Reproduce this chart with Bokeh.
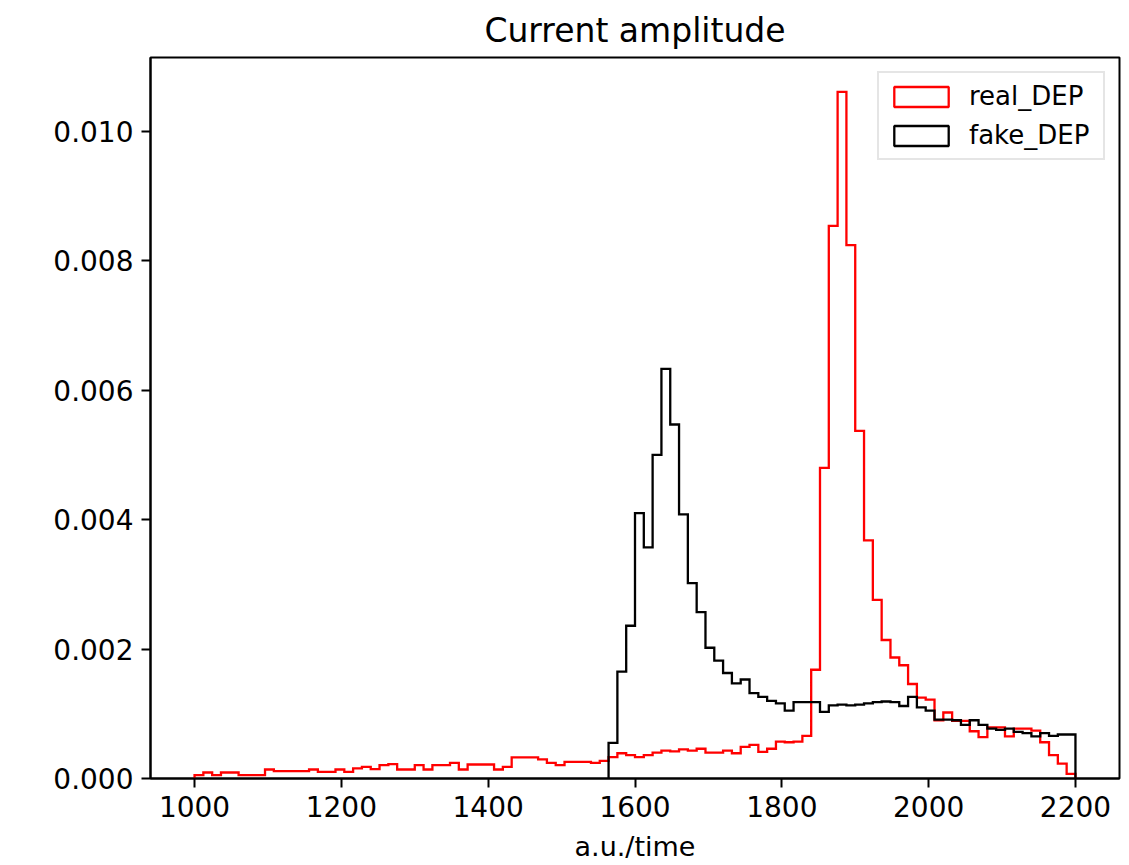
from bokeh.plotting import figure
from bokeh.models import Range1d, FixedTicker, PrintfTickFormatter, Legend, LegendItem, ColumnDataSource
from bokeh.embed import file_html
from bokeh.resources import INLINE

# ---- data (density histogram, 100 bins of width 12 from 1000 to 2200) ----
bin_start = 1000
bin_width = 12

# real_DEP densities for bins 0..99
real_dep = [
    0.000051, 0.000093, 0.000051, 0.000093, 0.000093, 0.000051, 0.000051, 0.000051, 0.000139, 0.000113,
    0.000113, 0.000113, 0.000113, 0.000139, 0.000102, 0.000102, 0.000139, 0.000102, 0.000155, 0.000180,
    0.000144, 0.000206, 0.000221, 0.000139, 0.000139, 0.000206, 0.000139, 0.000206, 0.000206, 0.000240,
    0.000139, 0.000216, 0.000216, 0.000216, 0.000139, 0.000180, 0.000325, 0.000325, 0.000325, 0.000294,
    0.000240, 0.000206, 0.000257, 0.000257, 0.000257, 0.000240, 0.000272,
    0.000330, 0.000390, 0.000360, 0.000330, 0.000360, 0.000400, 0.000430, 0.000420, 0.000450, 0.000430,
    0.000460, 0.000400, 0.000400, 0.000430, 0.000390, 0.000490, 0.000520, 0.000410, 0.000460, 0.000570,
    0.000560, 0.000570, 0.000660,
    0.00168, 0.00480, 0.00854, 0.01061, 0.00824, 0.00537, 0.00368, 0.00276, 0.00214, 0.00187,
    0.00175, 0.00146, 0.00125, 0.00122, 0.00090, 0.00102, 0.00089, 0.00089, 0.00073, 0.00064,
    0.00079, 0.00079, 0.00065, 0.00077, 0.00077, 0.00074, 0.00056, 0.00036, 0.00023, 0.00007,
]

# fake_DEP densities, first non-empty bin is bin 47 (x = 1564)
fake_first_bin = 47
fake_dep = [
    0.00055, 0.00165, 0.00236, 0.00410, 0.00357, 0.00500, 0.00633, 0.00547, 0.00408, 0.00302,
    0.00257, 0.00202, 0.00182, 0.00163, 0.00147, 0.00153, 0.00132, 0.00126, 0.00120, 0.00116,
    0.00105, 0.00118, 0.00118, 0.00118, 0.00103, 0.00113, 0.00114, 0.00113, 0.00114, 0.00116,
    0.00118, 0.00119, 0.00118, 0.00112, 0.00126, 0.00110, 0.00105, 0.00091, 0.00091, 0.00090,
    0.00083, 0.00090, 0.00083, 0.00077, 0.00075, 0.00077, 0.00072, 0.00070, 0.00065, 0.00070,
    0.00066, 0.00068, 0.00068,
]

x_ticks = [1000, 1200, 1400, 1600, 1800, 2000, 2200]
y_ticks = [0.0, 0.002, 0.004, 0.006, 0.008, 0.010]

title_text = "Current amplitude"
x_label = "a.u./time"
labels = ["real_DEP", "fake_DEP"]
colors = ["#ff0000", "#000000"]


def step_outline(first_bin, values):
    xs, ys = [], []
    left0 = bin_start + first_bin * bin_width
    xs.append(left0)
    ys.append(0.0)
    for i, v in enumerate(values):
        left = bin_start + (first_bin + i) * bin_width
        right = left + bin_width
        xs += [left, right]
        ys += [v, v]
    xs.append(bin_start + (first_bin + len(values)) * bin_width)
    ys.append(0.0)
    return xs, ys


def bin_table(first_bin, values):
    lefts = [bin_start + (first_bin + i) * bin_width for i in range(len(values))]
    return dict(left=lefts, right=[l + bin_width for l in lefts],
                top=list(values), bottom=[0.0] * len(values))


x_lo, x_hi = bin_start, bin_start + len(real_dep) * bin_width
pad = 0.05 * (x_hi - x_lo)
ymax = max(max(real_dep), max(fake_dep)) * 1.05

FONT = "DejaVu Sans"
LW = 2.3

p = figure(width=1129, height=865, output_backend="svg", toolbar_location=None,
           x_range=Range1d(x_lo - pad, x_hi + pad), y_range=Range1d(0, ymax),
           min_border_left=150, min_border_right=10, min_border_top=57, min_border_bottom=87,
           title=title_text)

p.title.align = "center"
p.title.text_font = FONT
p.title.text_font_size = "33px"
p.title.text_font_style = "normal"
p.title.text_color = "black"
p.title.standoff = 15

p.background_fill_color = "white"
p.border_fill_color = "white"
p.outline_line_color = "black"
p.outline_line_width = 2
p.outline_line_alpha = 1.0
p.xgrid.visible = False
p.ygrid.visible = False

p.xaxis.ticker = FixedTicker(ticks=x_ticks)
p.yaxis.ticker = FixedTicker(ticks=y_ticks)
p.yaxis.formatter = PrintfTickFormatter(format="%.3f")
for ax in (p.xaxis, p.yaxis):
    ax.minor_tick_line_color = None
    ax.major_tick_in = 0
    ax.major_tick_out = 9
    ax.major_tick_line_width = 2
    ax.major_tick_line_color = "black"
    ax.axis_line_width = 2
    ax.axis_line_color = "black"
    ax.major_label_text_font = FONT
    ax.major_label_text_font_size = "28px"
    ax.major_label_text_color = "black"
p.yaxis.major_label_standoff = 8
p.xaxis.major_label_standoff = 8
p.xaxis.axis_label = x_label
p.xaxis.axis_label_text_font = FONT
p.xaxis.axis_label_text_font_size = "27px"
p.xaxis.axis_label_text_font_style = "normal"
p.xaxis.axis_label_text_color = "black"
p.xaxis.axis_label_standoff = 11

rx, ry = step_outline(0, real_dep)
fx, fy = step_outline(fake_first_bin, fake_dep)
p.line(x=rx, y=ry, line_color=colors[0], line_width=LW, line_join="miter")
p.line(x=fx, y=fy, line_color=colors[1], line_width=LW, line_join="miter")

# hidden bar renderers of the same bins; used only to draw outlined boxes in the legend
leg_renderers = []
for c, (fb, vals) in zip(colors, [(0, real_dep), (fake_first_bin, fake_dep)]):
    src = ColumnDataSource(bin_table(fb, vals))
    r = p.quad(left="left", right="right", top="top", bottom="bottom", source=src,
               fill_alpha=0, line_color=c, line_width=LW)
    r.visible = False
    leg_renderers.append(r)

legend = Legend(items=[LegendItem(label=labels[i], renderers=[leg_renderers[i]], index=0) for i in range(2)],
                location="top_right")
legend.click_policy = "none"
legend.margin = 14
legend.padding = 8
legend.spacing = 9
legend.glyph_width = 68
legend.glyph_height = 25
legend.label_standoff = 14
legend.label_width = 126
legend.label_text_font = FONT
legend.label_text_font_size = "26px"
legend.label_text_color = "black"
legend.border_line_color = "#cccccc"
legend.border_line_width = 2
legend.background_fill_alpha = 0.8
p.add_layout(legend)

open("out.html", "w").write(file_html(p, INLINE))
